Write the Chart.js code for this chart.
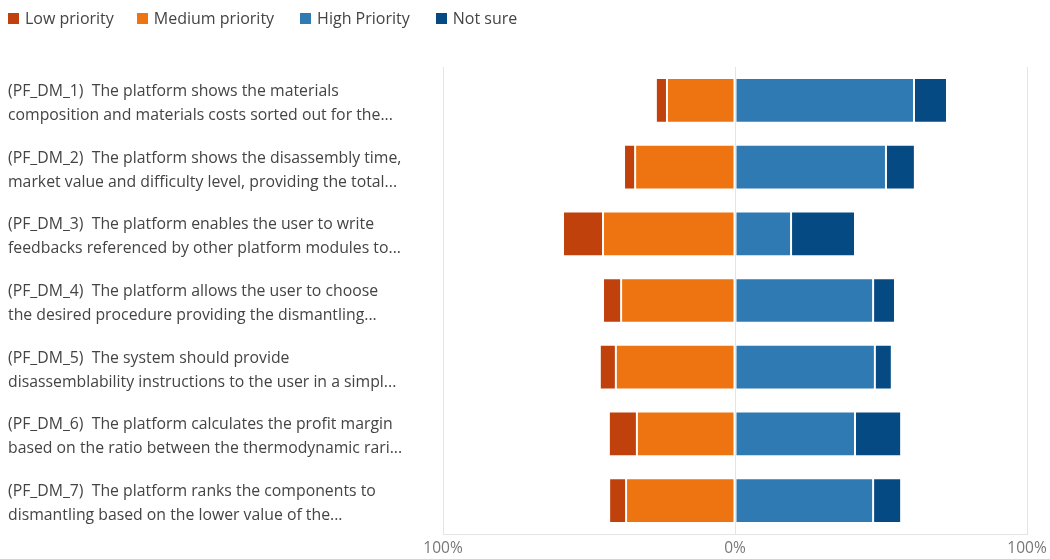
<!DOCTYPE html>
<html>
<head>
<meta charset="utf-8">
<script src="https://cdn.jsdelivr.net/npm/chart.js@4/dist/chart.umd.min.js"></script>
<style>
  html, body { margin: 0; padding: 0; background: #fff; }
  #wrap { position: relative; width: 1050px; height: 559px; }
  #legend { position: absolute; top: 7px; left: 8px; display: flex; font: 16px "Open Sans", sans-serif; color: #444; }
  #legend .item { display: flex; align-items: center; margin-right: 26px; }
  #legend .item:first-child { margin-right: 23px; }
  #legend .box { width: 11px; height: 11px; margin-right: 6px; }
</style>
</head>
<body>
<div id="wrap">
  <div id="legend"></div>
  <canvas id="chart" width="1050" height="559"></canvas>
</div>
<script>
const questions = [
  ["(PF_DM_1)  The platform shows the materials", "composition and materials costs sorted out for the..."],
  ["(PF_DM_2)  The platform shows the disassembly time,", "market value and difficulty level, providing the total..."],
  ["(PF_DM_3)  The platform enables the user to write", "feedbacks referenced by other platform modules to..."],
  ["(PF_DM_4)  The platform allows the user to choose", "the desired procedure providing the dismantling..."],
  ["(PF_DM_5)  The system should provide", "disassemblability instructions to the user in a simpl..."],
  ["(PF_DM_6)  The platform calculates the profit margin", "based on the ratio between the thermodynamic rari..."],
  ["(PF_DM_7)  The platform ranks the components to", "dismantling based on the lower value of the..."]
];

// percentages of answers per statement
const lowPriority    = [3.8, 3.8, 13.7, 6.2, 5.5, 9.6, 5.8];
const mediumPriority = [23.3, 34.2, 45.2, 39.0, 40.8, 33.6, 37.3];
const highPriority   = [61.3, 51.7, 19.2, 47.3, 47.9, 41.1, 47.3];
const notSure        = [11.3, 9.9, 21.9, 7.5, 5.8, 15.8, 9.6];

const xTicks = [-100, 0, 100];

const colors = {
  low: "#c0410c",
  medium: "#ed7410",
  high: "#2f7ab2",
  notSure: "#064a84"
};

// low/medium go left of zero; medium is listed first so it sits next to the axis
const neg = arr => arr.map(v => -v);
const datasets = [
  { label: "Medium priority", data: neg(mediumPriority), backgroundColor: colors.medium },
  { label: "Low priority", data: neg(lowPriority), backgroundColor: colors.low },
  { label: "High Priority", data: highPriority, backgroundColor: colors.high },
  { label: "Not sure", data: notSure, backgroundColor: colors.notSure }
].map(d => Object.assign(d, {
  borderWidth: 1,
  borderColor: "rgba(255,255,255,0.3)",
  borderSkipped: false,
  barPercentage: 1,
  categoryPercentage: 0.67
}));

// legend in the usual reading order
const legendOrder = ["Low priority", "Medium priority", "High Priority", "Not sure"];
const legendEl = document.getElementById("legend");
legendOrder.forEach(name => {
  const ds = datasets.find(d => d.label === name);
  const item = document.createElement("div");
  item.className = "item";
  const box = document.createElement("span");
  box.className = "box";
  box.style.background = ds.backgroundColor;
  const txt = document.createElement("span");
  txt.textContent = name;
  item.appendChild(box);
  item.appendChild(txt);
  legendEl.appendChild(item);
});

new Chart(document.getElementById("chart"), {
  type: "bar",
  data: { labels: questions, datasets: datasets },
  options: {
    indexAxis: "y",
    responsive: false,
    animation: false,
    layout: { padding: { left: 8, top: 67, right: 23, bottom: 0 } },
    plugins: {
      legend: { display: false },
      tooltip: { enabled: false }
    },
    scales: {
      x: {
        stacked: true,
        min: -100,
        max: 100,
        afterBuildTicks: axis => { axis.ticks = xTicks.map(v => ({ value: v })); },
        afterFit: axis => {
          axis.height = 25;
          axis.paddingLeft = 0;
          axis.paddingRight = 0;
        },
        ticks: {
          callback: v => Math.abs(v) + "%",
          color: "#777",
          font: { family: "Open Sans", size: 15.5 },
          padding: 5,
          maxRotation: 0
        },
        grid: { color: "#e4e4e4", drawTicks: false },
        border: { color: "#e4e4e4" }
      },
      y: {
        stacked: true,
        afterFit: axis => {
          axis.width = 435;
          axis.paddingTop = 0;
          axis.paddingBottom = 0;
        },
        ticks: {
          crossAlign: "far",
          color: "#444",
          labelOffset: 3,
          font: { family: "Open Sans", size: 15.8, lineHeight: 1.52 }
        },
        grid: { display: false },
        border: { display: false }
      }
    }
  }
});
</script>
</body>
</html>
